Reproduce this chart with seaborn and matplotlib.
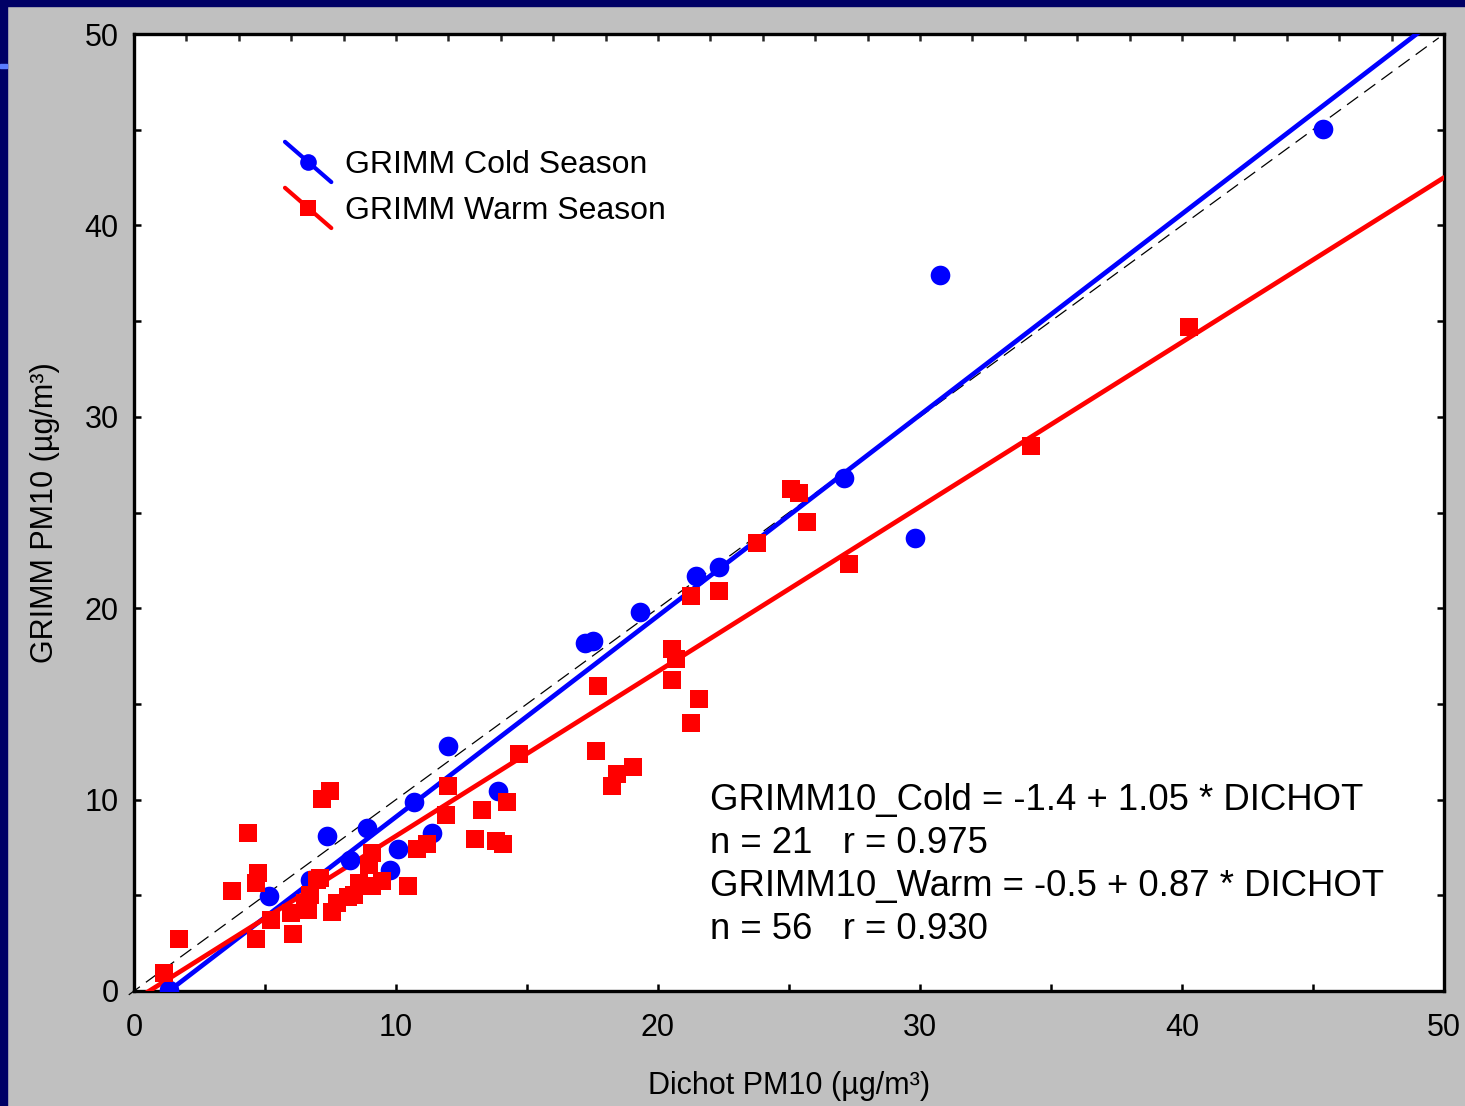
import numpy as np
import pandas as pd
import matplotlib
matplotlib.use("Agg")
import matplotlib.pyplot as plt
import seaborn as sns
from matplotlib.lines import Line2D
from matplotlib.legend_handler import HandlerLine2D
from matplotlib.patches import Rectangle

# ---------------- data ----------------
cold_x = [45.38, 30.76, 29.81, 27.10, 22.33, 21.45, 19.31, 17.52, 17.21, 11.98,
          13.89, 10.69, 11.37, 10.08, 9.77, 8.89, 7.37, 8.24, 5.15, 6.72, 1.35]
cold_y = [45.04, 37.41, 23.67, 26.80, 22.15, 21.68, 19.80, 18.29, 18.18, 12.80,
          10.45, 9.87, 8.25, 7.42, 6.32, 8.52, 8.10, 6.84, 4.96, 5.80, 0.05]

warm_x = [40.27, 34.24, 27.29, 25.08, 25.38, 25.69, 23.78, 22.33, 21.26, 20.53,
          20.69, 20.53, 21.56, 21.26, 17.71, 17.63, 19.05, 18.44, 18.24, 14.69,
          11.98, 11.91, 13.28, 14.24, 13.02, 13.82, 14.08, 11.18, 10.80, 10.46,
          7.48, 7.18, 4.35, 9.08, 8.97, 9.47, 9.08, 8.59, 8.17, 7.75,
          7.56, 7.10, 6.72, 6.53, 6.64, 6.07, 5.99, 5.23, 4.66, 3.74,
          4.73, 4.66, 1.72, 1.15, 6.98, 8.40]
warm_y = [34.69, 28.47, 22.31, 26.23, 26.02, 24.50, 23.41, 20.90, 20.64, 17.87,
          17.35, 16.25, 15.26, 14.00, 15.94, 12.54, 11.70, 11.34, 10.71, 12.38,
          10.71, 9.20, 9.46, 9.87, 7.94, 7.84, 7.68, 7.68, 7.42, 5.49,
          10.45, 10.03, 8.25, 7.21, 6.58, 5.75, 5.49, 5.64, 4.91, 4.60,
          4.13, 5.90, 5.02, 4.60, 4.23, 2.98, 4.08, 3.71, 2.72, 5.22,
          6.17, 5.64, 2.72, 0.94, 5.80, 5.00]

cold_fit = [-1.4, 1.05]    # intercept, slope
warm_fit = [-0.5, 0.86]

series_labels = ["GRIMM Cold Season", "GRIMM Warm Season"]
x_label = "Dichot PM10 (µg/m³)"
y_label = "GRIMM PM10 (µg/m³)"
eq_lines = ["GRIMM10_Cold = -1.4 + 1.05 * DICHOT",
            "n = 21   r = 0.975",
            "GRIMM10_Warm = -0.5 + 0.87 * DICHOT",
            "n = 56   r = 0.930"]

# ---------------- style ----------------
sns.set_theme(style="ticks")
plt.rcParams['font.family'] = ['Liberation Sans', 'DejaVu Sans']
plt.rcParams['text.color'] = 'black'
plt.rcParams['axes.labelcolor'] = 'black'

BLUE = "#0000FF"
RED = "#FF0000"
BG = "#C0C0C0"
NAVY = "#000066"

fig = plt.figure(figsize=(14.65, 11.06), dpi=100, facecolor=BG)
ax = fig.add_axes([134/1465, 1-991/1106, 1310/1465, 957/1106])
ax.set_facecolor("white")

# frame border strips
fig.patches.append(Rectangle((0, 0), 7/1465, 1, transform=fig.transFigure,
                             color=NAVY, zorder=0))
fig.patches.append(Rectangle((0, 1-6/1106), 1, 6/1106, transform=fig.transFigure,
                             color=NAVY, zorder=0))
fig.patches.append(Rectangle((0, 1-68/1106), 7/1465, 4/1106, transform=fig.transFigure,
                             color="#5a7dff", zorder=1))

# 1:1 dashed line
ax.plot([-0.2, 49.8], [-0.2, 49.8], color="black", lw=0.9, ls=(0, (11, 6)),
        clip_on=False, zorder=2)

# regression lines
xs = np.array([0.0, 50.0])
df_cf = pd.DataFrame({"x": xs, "y": cold_fit[0] + cold_fit[1]*xs})
df_wf = pd.DataFrame({"x": xs, "y": warm_fit[0] + warm_fit[1]*xs})
sns.lineplot(data=df_cf, x="x", y="y", ax=ax, color=BLUE, lw=3.4, zorder=3)
sns.lineplot(data=df_wf, x="x", y="y", ax=ax, color=RED, lw=3.4, zorder=3)

# points
df_c = pd.DataFrame({"x": cold_x, "y": cold_y})
df_w = pd.DataFrame({"x": warm_x, "y": warm_y})
sns.scatterplot(data=df_c, x="x", y="y", ax=ax, marker="o", s=200, color=BLUE,
                edgecolor=BLUE, linewidth=0, zorder=4)
sns.scatterplot(data=df_w, x="x", y="y", ax=ax, marker="s", s=165, color=RED,
                edgecolor=RED, linewidth=0, zorder=5)

ax.set_xlim(0, 50)
ax.set_ylim(0, 50)
ax.set_xticks([0, 10, 20, 30, 40, 50])
ax.set_yticks([0, 10, 20, 30, 40, 50])
ax.set_xticks(np.arange(0, 51, 5), minor=True)
ax.set_yticks(np.arange(0, 51, 5), minor=True)
ax.tick_params(axis="both", which="both", direction="in", length=5, width=1.8,
               color="black", labelsize=22, labelcolor="black")
ax.tick_params(axis="y", which="both", left=True, right=True, pad=11)
ax.tick_params(axis="x", which="both", bottom=True, top=False, pad=16)

sec = ax.secondary_xaxis("top")
sec.set_xticks(np.arange(0, 51, 2))
sec.tick_params(direction="in", length=5, width=1.8, labeltop=False)
for s in sec.spines.values():
    s.set_visible(False)

for s in ax.spines.values():
    s.set_linewidth(2.4)
    s.set_color("black")
    s.set_visible(True)

ax.set_xlabel(x_label, fontsize=22, color="black")
ax.set_ylabel(y_label, fontsize=22, color="black")
ax.xaxis.set_label_coords(0.5, (991 - 1071) / 957)
ax.yaxis.set_label_coords((60 - 134) / 1310, 0.5)


class SlantHandler(HandlerLine2D):
    def create_artists(self, legend, orig_handle, xdescent, ydescent, width,
                       height, fontsize, trans):
        x0, x1 = -xdescent, width - xdescent
        y0, y1 = height * 1.4 - ydescent, -height * 0.4 - ydescent
        line = Line2D([x0, x1], [y0, y1], color=orig_handle.get_color(),
                      lw=orig_handle.get_linewidth())
        mk = Line2D([(x0+x1)/2], [(y0+y1)/2], marker=orig_handle.get_marker(),
                    markersize=orig_handle.get_markersize(), ls="none",
                    color=orig_handle.get_color(), markeredgewidth=0)
        line.set_transform(trans)
        mk.set_transform(trans)
        return [line, mk]


handles = [Line2D([], [], color=BLUE, lw=3, marker="o", markersize=12),
           Line2D([], [], color=RED, lw=3, marker="s", markersize=12)]
leg = ax.legend(handles, series_labels, handler_map={Line2D: SlantHandler()},
                loc="upper left", bbox_to_anchor=(0.1055, 0.892), frameon=False,
                fontsize=23, handlelength=1.45, handletextpad=0.42,
                labelspacing=0.5, borderaxespad=0, labelcolor="black")

ax.text(0.4395, 0.2173, "\n".join(eq_lines), transform=ax.transAxes,
        fontsize=26.3, linespacing=1.3, va="top", ha="left", color="black")

fig.savefig("out.png", dpi=100, facecolor=BG)
